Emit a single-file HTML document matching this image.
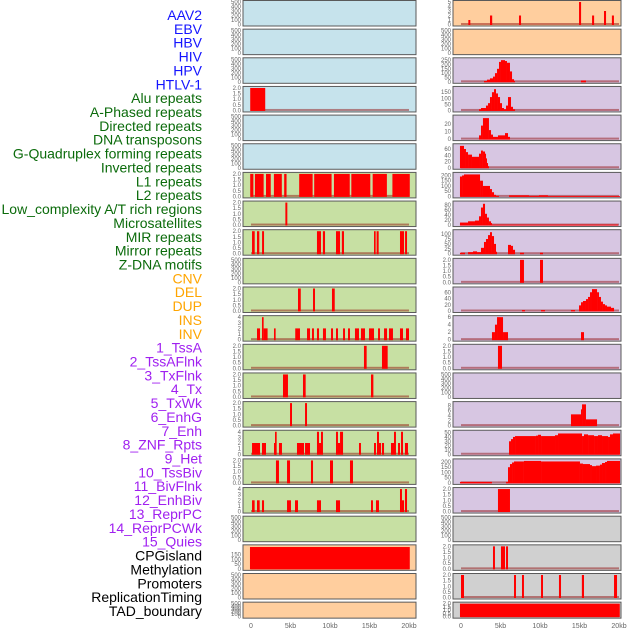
<!DOCTYPE html>
<html><head><meta charset="utf-8">
<style>
html,body{margin:0;padding:0;background:#fff;}
svg{display:block;font-family:"Liberation Sans",sans-serif;}
.lab{font-size:14px;text-anchor:end;}
.tk{font-size:6px;fill:#666;text-anchor:end;}
.xt{font-size:7px;fill:#666;text-anchor:middle;}
</style></head>
<body>
<svg id="chart" width="630" height="630" viewBox="0 0 630 630" xmlns="http://www.w3.org/2000/svg"></svg>
<script>
// ---- row labels ----
const labels = ["AAV2","EBV","HBV","HIV","HPV","HTLV-1","Alu repeats","A-Phased repeats","Directed repeats","DNA transposons","G-Quadruplex forming repeats","Inverted repeats","L1 repeats","L2 repeats","Low_complexity A/T rich regions","Microsatellites","MIR repeats","Mirror repeats","Z-DNA motifs","CNV","DEL","DUP","INS","INV","1_TssA","2_TssAFlnk","3_TxFlnk","4_Tx","5_TxWk","6_EnhG","7_Enh","8_ZNF_Rpts","9_Het","10_TssBiv","11_BivFlnk","12_EnhBiv","13_ReprPC","14_ReprPCWk","15_Quies","CPGisland","Methylation","Promoters","ReplicationTiming","TAD_boundary"];
const labelGroups = [6,13,5,15,5];
const groupColors = ["#1414ff","#0b6b0b","#ffa500","#a020f0","#000000"];

// ---- x axis ----
const xTickValues = [0,5,10,15,20];
const xTickLabels = ["0","5kb","10kb","15kb","20kb"];

// ---- tick sets ----
const T500 = [0,100,200,300,400,500];
const T2 = [0,0.5,1,1.5,2];
const T2L = ["0.0","0.5","1.0","1.5","2.0"];
const T4 = [0,1,2,3,4];

// ---- left column data [startKb, endKb, value] ----
const L00 = [], L01 = [], L02 = [], L04 = [], L05 = [], L09 = [], L18 = [], L20 = [], L21 = [];
const L03 = [[-0.1,1.8,2]];
const L06 = [[-0.1,0.3,2],[0.5,1.6,2],[1.9,2.5,2],[2.9,3.9,2],[4.2,4.5,2],[6.1,7.8,2],[8.0,10.2,2],[10.5,12.5,2],[12.7,15.1,2],[15.4,17.2,2],[17.9,20.1,2]];
const L07 = [[4.35,4.6,2]];
const L08 = [[0.13,0.47,2],[0.76,1.05,2],[1.4,1.65,2],[8.35,8.86,2],[9.1,9.37,2],[10.76,11.27,2],[11.5,11.77,2],[15.57,15.78,2],[15.9,16.16,2],[18.86,19.37,2],[19.5,19.75,2]];
const L10 = [[5.95,6.3,2],[7.85,8.1,2],[10.25,10.6,2]];
const L11 = [[0.76,1.14,2],[1.39,1.6,4],[1.6,2.1,2],[2.91,3.12,2],[5.6,6.2,2],[7.09,7.47,2],[7.72,7.97,2],[8.35,8.61,2],[9.11,9.49,2],[10.13,10.38,2],[10.76,11.01,2],[11.65,11.9,2],[12.28,12.53,2],[13.16,13.67,2],[13.92,14.43,2],[14.94,15.57,2],[16.08,16.33,2],[16.84,17.22,2],[17.47,17.97,2],[18.86,19.24,2],[19.62,20.0,2]];
const L12 = [[14.3,14.64,2],[16.58,17.3,2]];
const L13 = [[4.05,4.68,2],[6.58,6.92,2],[15.19,15.49,2]];
const L14 = [[4.94,5.19,2],[6.84,7.09,2]];
const L15 = [[0.13,1.14,2],[1.39,1.9,2],[2.91,3.16,2],[3.04,3.25,4],[3.54,3.92,2],[5.82,6.71,2],[6.84,7.47,2],[8.35,8.61,4],[8.61,8.86,2],[8.86,9.11,4],[10.76,11.01,4],[11.01,11.27,2],[11.27,11.65,4],[13.67,13.92,2],[15.57,15.82,2],[15.95,16.2,4],[16.2,16.46,2],[16.58,16.84,2],[17.72,18.1,2],[18.1,18.35,4],[18.61,18.86,2],[18.99,19.24,4],[19.49,19.87,2]];
const L16 = [[3.16,3.54,2],[4.56,4.94,2],[7.59,7.85,2],[10.0,10.38,2],[12.53,12.91,2]];
const L17 = [[0.13,0.46,2],[0.76,1.1,2],[1.39,1.65,2],[4.56,5.06,2],[5.57,5.95,2],[8.35,8.86,2],[10.76,11.27,2],[15.19,15.44,2],[15.82,16.2,2],[18.86,19.11,4],[19.11,19.37,2],[19.49,19.75,4]];
const L19 = [[-0.13,20.1,228]];

// ---- right column data ----
const R01 = [], R13 = [], R18 = [];
const R00 = [[0.93,1.18,1],[3.67,3.95,2],[7.34,7.6,2],[14.94,15.2,5],[16.59,16.85,2],[18.1,18.36,3],[19.1,19.36,2]];
const R02 = [[2.91,3.29,10],[3.29,3.67,25],[3.67,4.05,40],[4.05,4.3,60],[4.3,4.56,100],[4.56,4.81,150],[4.81,5.06,230],[5.06,5.57,250],[5.57,5.82,240],[5.82,6.2,220],[6.2,6.46,120],[6.46,6.71,30],[6.71,6.84,10],[15.19,15.82,15]];
const R03 = [[2.28,2.53,10],[2.53,3.16,20],[3.16,3.42,40],[3.42,3.67,60],[3.67,3.92,110],[3.92,4.18,150],[4.18,4.43,175],[4.43,4.68,140],[4.68,4.94,110],[4.94,5.19,60],[5.19,5.44,20],[5.44,5.7,10],[5.7,5.95,40],[5.95,6.33,110],[6.33,6.58,30],[6.58,6.84,10]];
const R04 = [[2.28,2.53,5],[2.53,2.78,18],[2.78,3.54,28],[3.54,3.8,12],[3.8,4.05,6],[4.05,4.68,3],[4.68,5.57,5],[5.57,5.95,8],[5.95,6.2,3]];
const R05 = [[-0.13,0.38,70],[0.38,0.63,60],[0.63,0.89,50],[0.89,1.39,42],[1.39,2.28,35],[2.28,2.53,45],[2.53,2.78,55],[2.78,3.04,52],[3.04,3.16,45],[3.16,3.29,30],[3.29,3.42,15],[3.42,3.54,5]];
const R06 = [[-0.13,0.13,190],[0.13,0.38,200],[0.38,2.41,210],[2.41,2.78,150],[2.78,3.67,100],[3.67,3.92,70],[3.92,4.18,40],[4.18,4.43,15],[4.43,4.81,5],[6.08,8.61,10],[8.61,9.87,5],[9.87,11.01,10],[11.01,20.13,3]];
const R07 = [[-0.13,0.89,10],[0.89,1.77,15],[1.77,2.28,18],[2.28,2.53,35],[2.53,2.78,70],[2.78,3.04,85],[3.04,3.29,45],[3.29,3.54,30],[3.54,3.8,15],[3.8,3.92,8],[3.92,19.9,2]];
const R08 = [[-0.13,0.51,5],[0.89,1.52,8],[1.52,2.03,12],[2.03,2.53,8],[2.53,2.91,30],[2.91,3.16,60],[3.16,3.42,75],[3.42,3.67,95],[3.67,3.92,110],[3.92,4.18,90],[4.18,4.43,50],[4.43,4.56,10],[5.95,6.33,45],[6.33,6.58,40],[6.58,6.84,20],[7.47,7.97,5],[10.0,10.38,5]];
const R09 = [[7.47,7.97,2],[10.0,10.38,2]];
const R10 = [[7.72,8.1,3],[10.13,10.63,3],[13.92,14.43,3],[14.94,15.19,18],[15.19,15.44,28],[15.44,15.82,32],[15.82,16.08,38],[16.08,16.33,45],[16.33,16.58,60],[16.58,17.22,70],[17.22,17.47,60],[17.47,17.72,45],[17.72,17.97,30],[17.97,18.23,22],[18.23,18.48,18],[18.48,18.99,14],[18.99,19.37,10]];
const R11 = [[3.92,4.3,2],[4.3,4.56,4],[4.56,5.32,6],[5.32,5.95,2],[15.19,15.57,2]];
const R12 = [[4.68,5.19,2]];
const R14 = [[13.92,15.19,4.5],[15.19,15.32,6.5],[15.32,15.82,8.5],[15.82,17.22,2.5]];
const R15 = [[6.08,6.33,30],[6.33,6.58,35],[6.58,6.84,40],[6.84,9.49,42],[9.49,9.75,43],[9.75,10.13,45],[10.13,11.9,42],[11.9,12.28,44],[12.28,15.32,48],[15.32,15.57,42],[15.57,16.08,46],[16.08,16.84,44],[16.84,17.34,42],[17.34,17.85,44],[17.85,18.61,42],[18.61,18.86,40],[18.86,19.24,46],[19.24,20.13,48]];
const R16 = [[-0.13,3.92,10],[5.7,5.95,10],[5.95,6.2,150],[6.2,6.46,180],[6.46,6.71,195],[6.71,7.97,205],[7.97,10.13,210],[10.13,15.06,205],[15.06,15.44,185],[15.44,16.33,180],[16.33,16.58,170],[16.58,17.09,160],[17.09,17.59,165],[17.59,17.85,175],[17.85,18.23,190],[18.23,18.48,200],[18.48,20.13,210]];
const R17 = [[4.68,6.2,2]];
const R19 = [[4.05,4.3,2],[5.06,5.57,2],[5.7,5.95,2]];
const R20 = [[0,0.38,2],[6.71,6.96,2],[7.72,7.97,2],[10.13,10.38,2],[12.4,12.66,2],[15.3,15.57,2],[19.37,19.75,2]];
const R21 = [[-0.13,20.1,2]];

const leftData = [L00,L01,L02,L03,L04,L05,L06,L07,L08,L09,L10,L11,L12,L13,L14,L15,L16,L17,L18,L19,L20,L21];
const rightData = [R00,R01,R02,R03,R04,R05,R06,R07,R08,R09,R10,R11,R12,R13,R14,R15,R16,R17,R18,R19,R20,R21];
const leftMax = [500,500,500,2,500,500,2,2,2,500,2,4,2,2,2,4,2,4,500,235,500,500];
const rightMax = [5,500,260,185,30,72,215,90,115,2,72,6,2,500,9,52,215,2,500,2,2,2];
const rightTicks = [[0,1,2,3,4,5],T500,[0,50,100,150,200,250],[0,50,100,150],[0,10,20],[0,20,40,60],[0,50,100,150,200],[0,20,40,60,80],[0,25,50,75,100],T2,[0,20,40,60],[0,2,4,6],T2,T500,[0,2,4,6,8],[0,10,20,30,40,50],[0,50,100,150,200],T2,T500,T2,T2,T2];
const leftTicks = leftMax.map(m => m===500?T500:m===2?T2:m===4?T4:[0,50,100,150]);
const leftBg = ["#c6e3ec","#c6e3ec","#c6e3ec","#c6e3ec","#c6e3ec","#c6e3ec","#c7e0a3","#c7e0a3","#c7e0a3","#c7e0a3","#c7e0a3","#c7e0a3","#c7e0a3","#c7e0a3","#c7e0a3","#c7e0a3","#c7e0a3","#c7e0a3","#c7e0a3","#ffce9e","#ffce9e","#ffce9e"];
const rightBg = ["#ffce9e","#ffce9e"].concat(Array(16).fill("#d7c6e2")).concat(["#d0d0d0","#d0d0d0","#d0d0d0","#d0d0d0"]);

const NS = "http://www.w3.org/2000/svg";
const svg = document.getElementById('chart');
function mk(tag, attrs, parent){ const e=document.createElementNS(NS,tag); for(const k in attrs) e.setAttribute(k,attrs[k]); (parent||svg).appendChild(e); return e; }

// labels
let li = 0;
labelGroups.forEach((n,g)=>{
  for(let k=0;k<n;k++,li++){
    const t = mk('text',{x:202,y:15+li*13.86+5,class:'lab',fill:groupColors[g]});
    t.textContent = labels[li];
    
    
  }
});

const PX_PER_KB = 7.9;
function panelTop(i){ return i*28.65; }
function panelH(i){ return i===21 ? 16 : 25.5; }

function drawPanel(side, i, x0, x1, zeroX, bg, data, ymax, ticks){
  const top = panelTop(i), h = panelH(i);
  const g = mk('g',{});
  
  
  const r = mk('rect',{x:x0,y:top+0.5,width:x1-x0,height:h,fill:bg,stroke:'#5a5a5a','stroke-width':1},g);
  
  
  const pTop = top+2, pBot = top+h-1;
  const yS = v => pBot - (v/ymax)*(pBot-pTop);
  const xS = kb => zeroX + kb*PX_PER_KB;
  // ticks
  ticks.forEach((v,k)=>{
    const t = mk('text',{x:x0-2,y:yS(v)+2,class:'tk'},svg);
    t.textContent = (ticks===T2) ? T2L[k] : String(v);
    
    
  });
  if(data.length){
    const bl = mk('rect',{x:xS(0),y:pBot-1.5,width:20*PX_PER_KB,height:2,fill:'#8b0000','fill-opacity':0.45},g);
    
    
  }
  data.forEach(d=>{
    const y = Math.max(yS(d[2]), top+1);
    const b = mk('rect',{x:xS(d[0]),y:y,width:Math.max(xS(d[1])-xS(d[0]),1),height:pBot+0.5-y,fill:'#ff0000'},g);
    
    
  });
}

for(let i=0;i<22;i++){
  drawPanel('left', i, 243, 416, 251, leftBg[i], leftData[i], leftMax[i], leftTicks[i]);
  drawPanel('right', i, 453, 621, 461, rightBg[i], rightData[i], rightMax[i], rightTicks[i]);
}

// x ticks
[251,461].forEach((zx,c)=>{
  xTickValues.forEach((v,k)=>{
    const t = mk('text',{x:zx+v*PX_PER_KB,y:628,class:'xt'});
    t.textContent = xTickLabels[k];
    
    
  });
});
</script>
</body></html>
